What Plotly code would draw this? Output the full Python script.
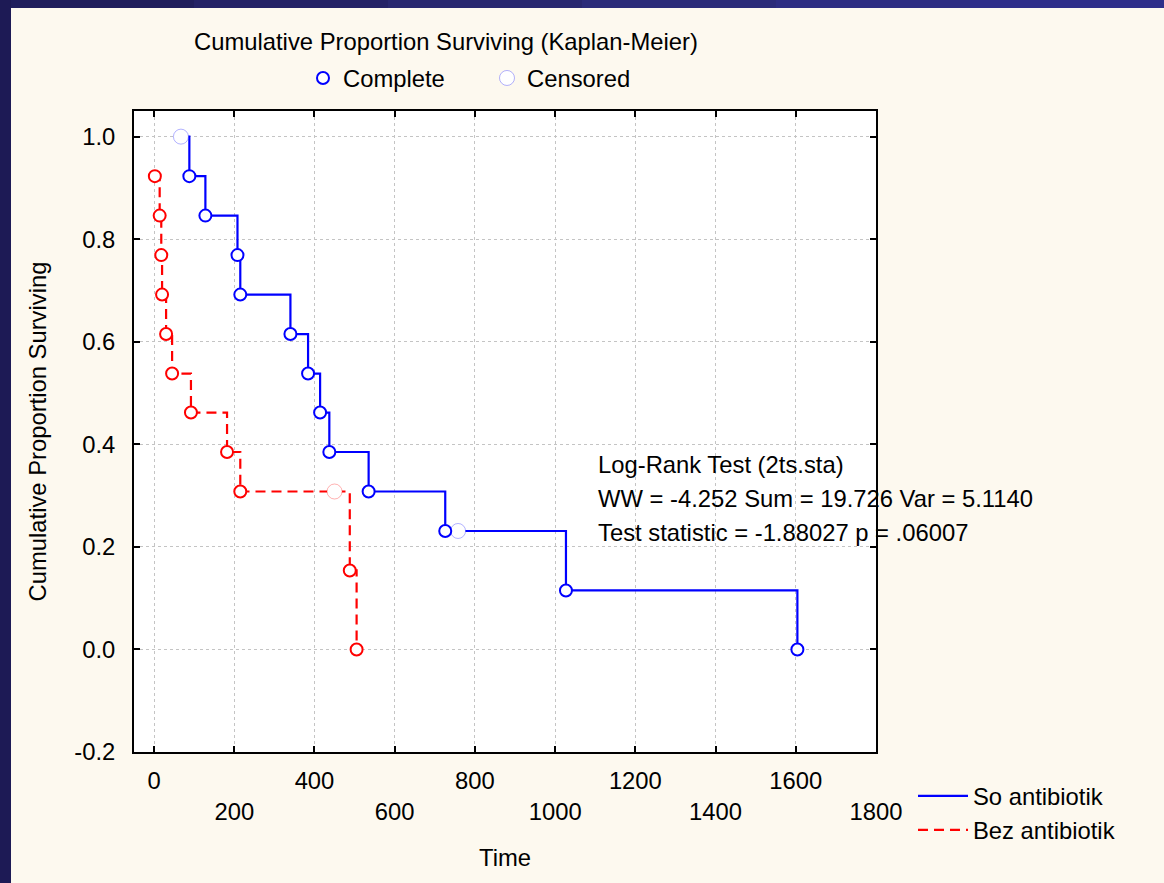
import plotly.graph_objects as go

# ---- data ----
so_event_time = [88, 128, 208, 215, 340, 384, 414, 437, 535, 726, 1027, 1604]
so_event_surv = [0.923, 0.846, 0.769, 0.692, 0.615, 0.538, 0.462, 0.385, 0.308, 0.231, 0.115, 0.0]
so_cens_time = [67, 758]
so_cens_surv = [1.0, 0.231]

bez_event_time = [2, 14, 18, 20, 30, 45, 92, 182, 215, 488, 505]
bez_event_surv = [0.923, 0.846, 0.769, 0.692, 0.615, 0.538, 0.462, 0.385, 0.308, 0.154, 0.0]
bez_cens_time = [450]
bez_cens_surv = [0.308]

x_ticks = [0, 200, 400, 600, 800, 1000, 1200, 1400, 1600, 1800]
y_ticks = [-0.2, 0.0, 0.2, 0.4, 0.6, 0.8, 1.0]
y_ticktext = ["-0.2", "0.0", "0.2", "0.4", "0.6", "0.8", "1.0"]
stats_lines = ["Log-Rank Test (2ts.sta)",
               "WW = -4.252 Sum = 19.726 Var = 5.1140",
               "Test statistic = -1.88027 p = .06007"]

BLUE = "#0000FF"
RED = "#FF0000"
FONT = "Liberation Sans, Arial, sans-serif"
FS = 23.8

W, H = 1164, 883
L, R, T, B = 134, 876, 111, 752  # plot area in pixels


def px_x(px):
    return (px - L) / (R - L)


def px_y(py):
    return (B - py) / (B - T)


fig = go.Figure()

# step lines (start of the blue curve at its first censored point)
so_line_t = [so_cens_time[0]] + so_event_time
so_line_s = [so_cens_surv[0]] + so_event_surv
fig.add_trace(go.Scatter(x=so_line_t, y=so_line_s, mode="lines", line_shape="hv",
                         line=dict(color=BLUE, width=2.2), name="So antibiotik",
                         legend="legend2", hoverinfo="skip"))
fig.add_trace(go.Scatter(x=bez_event_time, y=bez_event_surv, mode="lines", line_shape="hv",
                         line=dict(color=RED, width=2.2, dash="10px,6px"), name="Bez antibiotik",
                         legend="legend2", hoverinfo="skip"))

# censored marks (blank the line, faint dotted look)
fig.add_trace(go.Scatter(x=so_cens_time, y=so_cens_surv, mode="markers", name="Censored",
                         legend="legend", legendrank=2,
                         marker=dict(symbol="circle", size=15, color="white",
                                     line=dict(color="rgba(0,0,255,0.3)", width=1))))
fig.add_trace(go.Scatter(x=bez_cens_time, y=bez_cens_surv, mode="markers", showlegend=False,
                         marker=dict(symbol="circle", size=15, color="white",
                                     line=dict(color="rgba(255,0,0,0.3)", width=1))))

# complete (event) marks
fig.add_trace(go.Scatter(x=so_event_time, y=so_event_surv, mode="markers", name="Complete",
                         legend="legend", legendrank=1,
                         marker=dict(symbol="circle", size=12, color="white",
                                     line=dict(color=BLUE, width=2))))
fig.add_trace(go.Scatter(x=bez_event_time, y=bez_event_surv, mode="markers", showlegend=False,
                         marker=dict(symbol="circle", size=12, color="white",
                                     line=dict(color=RED, width=2))))

x_ticktext = [str(v) if i % 2 == 0 else "<br>" + str(v) for i, v in enumerate(x_ticks)]

axis_common = dict(showline=True, linecolor="black", linewidth=2, mirror="ticks",
                   ticks="inside", ticklen=6, tickwidth=2, tickcolor="black",
                   showgrid=True, gridcolor="#C4C4C4", gridwidth=1, griddash="dot",
                   zeroline=False, automargin=False,
                   tickfont=dict(family=FONT, size=FS, color="black"))

fig.update_xaxes(range=[-50, 1800], tickvals=x_ticks, ticktext=x_ticktext,
                 ticklabelstandoff=6,
                 title=dict(text="Time", font=dict(family=FONT, size=FS, color="black"),
                            standoff=26),
                 **axis_common)
fig.update_yaxes(range=[-0.2, 1.05], tickvals=y_ticks, ticktext=y_ticktext,
                 ticklabelstandoff=12,
                 title=dict(text="Cumulative Proportion Surviving",
                            font=dict(family=FONT, size=FS, color="black"), standoff=21),
                 **axis_common)

# background decoration: navy strips top and left
shapes = []
top_cols = ["#201E5C", "#242266", "#28276F", "#2B2B79", "#2D2D82", "#2E2E8A"]
n = len(top_cols)
for i, c in enumerate(top_cols):
    shapes.append(dict(type="rect", xref="paper", yref="paper", layer="below",
                       x0=px_x(W * i / n), x1=px_x(W * (i + 1) / n),
                       y0=px_y(8), y1=px_y(-2), fillcolor=c, line=dict(width=0)))
shapes.append(dict(type="rect", xref="paper", yref="paper", layer="below",
                   x0=px_x(-2), x1=px_x(11), y0=px_y(H + 2), y1=px_y(-2),
                   fillcolor="#1D1A55", line=dict(width=0)))

annotations = [dict(text="Cumulative Proportion Surviving (Kaplan-Meier)",
                    xref="paper", yref="paper", x=px_x(446), y=px_y(42),
                    showarrow=False, xanchor="center", yanchor="middle",
                    font=dict(family=FONT, size=FS, color="black"))]
for i, line in enumerate(stats_lines):
    annotations.append(dict(text=line, xref="paper", yref="paper",
                            x=px_x(596), y=px_y(465 + 33.5 * i),
                            showarrow=False, xanchor="left", yanchor="middle",
                            font=dict(family=FONT, size=FS, color="black")))

fig.update_layout(
    width=W, height=H,
    margin=dict(l=L, r=W - R, t=T, b=H - B, pad=0),
    paper_bgcolor="#FDF9EF", plot_bgcolor="white",
    font=dict(family=FONT, size=FS, color="black"),
    shapes=shapes, annotations=annotations,
    legend=dict(orientation="h", x=px_x(303), y=px_y(78), xanchor="left", yanchor="middle",
                bgcolor="rgba(0,0,0,0)", entrywidth=139, font=dict(family=FONT, size=FS)),
    legend2=dict(orientation="v", x=px_x(913), y=px_y(774), xanchor="left", yanchor="top",
                 bgcolor="rgba(0,0,0,0)", font=dict(family=FONT, size=FS),
                 itemwidth=50, tracegroupgap=0),
)

fig.write_html("out.html", config={"displayModeBar": False},
               post_script="document.body.style.margin='0';document.body.style.overflow='hidden';")
